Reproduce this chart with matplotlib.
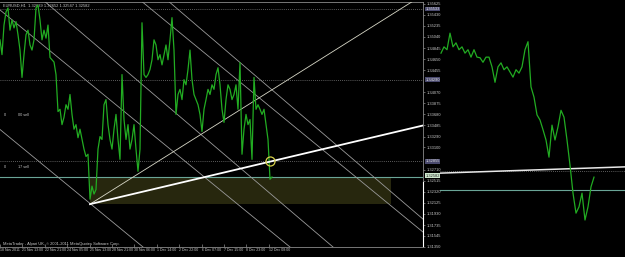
import numpy as np
import matplotlib
matplotlib.use("Agg")
import matplotlib.pyplot as plt
import matplotlib.transforms as mtransforms
from matplotlib.patches import Rectangle

plt.rcParams["font.family"] = ["Liberation Sans", "DejaVu Sans"]

# ---------------- data ----------------
symbol_text = "EURUSD,H1  1.32639 1.32652 1.32547 1.32582"
footer_text = "MetaTrader - Alpari UK, \u00a9 2001-2011 MetaQuotes Software Corp."

left_prices = [
    1.3499, 1.3473, 1.3525, 1.3548, 1.3555, 1.3516, 1.3534, 1.3520, 1.3531, 1.3508,
    1.3481, 1.3433, 1.3473, 1.3508, 1.3516, 1.3490, 1.3481, 1.3499, 1.3555, 1.3560,
    1.3534, 1.3499, 1.3516, 1.3502, 1.3525, 1.3468, 1.3464, 1.3460, 1.3438, 1.3373,
    1.3377, 1.3350, 1.3363, 1.3385, 1.3377, 1.3403, 1.3368, 1.3342, 1.3350, 1.3327,
    1.3342, 1.3324, 1.3307, 1.3294, 1.3298, 1.3219, 1.3242, 1.3228, 1.3236, 1.3307,
    1.3329, 1.3324, 1.3385, 1.3394, 1.3350, 1.3324, 1.3307, 1.3342, 1.3368, 1.3324,
    1.3289, 1.3438, 1.3359, 1.3324, 1.3350, 1.3307, 1.3324, 1.3350, 1.3307, 1.3268,
    1.3307, 1.3529, 1.3438, 1.3433, 1.3438, 1.3447, 1.3464, 1.3499, 1.3490, 1.3464,
    1.3473, 1.3455, 1.3473, 1.3490, 1.3464, 1.3499, 1.3538, 1.3481, 1.3368, 1.3403,
    1.3412, 1.3394, 1.3429, 1.3420, 1.3447, 1.3481, 1.3429, 1.3403, 1.3394, 1.3385,
    1.3368, 1.3338, 1.3377, 1.3394, 1.3412, 1.3403, 1.3420, 1.3412, 1.3438, 1.3450,
    1.3420, 1.3377, 1.3354, 1.3394, 1.3420, 1.3412, 1.3394, 1.3403, 1.3420, 1.3377,
    1.3459, 1.3298, 1.3342, 1.3368, 1.3350, 1.3359, 1.3289, 1.3433, 1.3377, 1.3385,
    1.3377, 1.3368, 1.3377, 1.3350, 1.3324, 1.3254, 1.3258,
]

right_prices = [
    1.3498, 1.3509, 1.3504, 1.3533, 1.3509, 1.3516, 1.3504, 1.3509, 1.3498, 1.3504,
    1.3491, 1.3504, 1.3491, 1.3490, 1.3482, 1.3491, 1.3491, 1.3474, 1.3447, 1.3474,
    1.3481, 1.3469, 1.3474, 1.3465, 1.3456, 1.3469, 1.3463, 1.3474, 1.3504, 1.3518,
    1.3439, 1.3421, 1.3390, 1.3381, 1.3364, 1.3346, 1.3316, 1.3372, 1.3346, 1.3369,
    1.3398, 1.3386, 1.3346, 1.3302, 1.3253, 1.3218, 1.3229, 1.3253, 1.3206, 1.3229,
    1.3264, 1.3281,
]

time_labels = ["18 Nov 2011", "21 Nov 13:00", "22 Nov 21:00", "24 Nov 05:00",
               "25 Nov 13:00", "28 Nov 21:00", "30 Nov 06:00", "1 Dec 14:00",
               "2 Dec 22:00", "6 Dec 07:00", "7 Dec 15:00", "8 Dec 23:00",
               "12 Dec 08:00"]

price_ticks = [1.35625, 1.35430, 1.35235, 1.35040, 1.34845, 1.34650, 1.34455,
               1.34070, 1.33875, 1.33680, 1.33485, 1.33290, 1.33100,
               1.32710, 1.32515, 1.32320, 1.32125, 1.31930, 1.31735,
               1.31545, 1.31350]

dotted_levels = [1.35533, 1.34290, 1.32855]
bid_level = 1.32582
zone_top, zone_bottom = 1.32575, 1.32103
swing_low = 1.32103
trend_end = 1.33485
touch_price = 1.32855

# right panel levels
right_trend = [1.3288, 1.3299]
right_dotted = 1.3292

# ---------------- layout constants ----------------
W, H = 625, 257
P0, PPX = 1.3569, 0.000175          # price at image row 0, price per pixel
LSTEP, RSTEP, TSTEP = 2.0, 3.0, 22.4

BG = "black"
GREEN = "#22ac22"
GRID = "#9a9a9a"
TXT = "#c8c8c8"
TEAL = "#6aa597"
FS = 2.9

def prow(y):
    return P0 - PPX * y

fig = plt.figure(figsize=(W / 100, H / 100), dpi=100, facecolor=BG)

# ---------------- left chart ----------------
ax = fig.add_axes([0, 10 / H, 423 / W, 245 / H], facecolor=BG)
ax.set_xlim(0, 423)
ax.set_ylim(prow(247), prow(2))

ax.add_patch(Rectangle((90, zone_bottom), 301, zone_top - zone_bottom,
                       facecolor="#27270e", edgecolor="none", zorder=1))

for lv in dotted_levels:
    ax.axhline(lv, color="#7a7a7a", lw=0.6, ls=(0, (1, 1.5)), zorder=2)
ax.axhline(bid_level, color=TEAL, lw=0.8, zorder=2)

diag = [((0, prow(130)), (143, prow(248))),
        ((0, prow(10)), (290, prow(248))),
        ((43, prow(0)), (333, prow(248))),
        ((140, prow(0)), (423, prow(233))),
        ((167, prow(0)), (423, prow(220)))]
for (x0, y0), (x1, y1) in diag:
    ax.plot([x0, x1], [y0, y1], color=GRID, lw=0.6, zorder=3)

ax.plot([90, 418], [swing_low, prow(-2)], color="#d8d8c8", lw=0.6, zorder=3)

xs = np.arange(len(left_prices)) * LSTEP
ax.plot(xs, left_prices, color=GREEN, lw=0.9, zorder=4)

ax.plot([90, 423], [swing_low, trend_end], color="white", lw=1.3, zorder=5)

ax.plot([270], [touch_price], marker="o", ms=6.5, mfc="none", mec="#d6d04a",
        mew=0.9, zorder=6)

ax.spines["left"].set_visible(False)
for s in ["right", "bottom", "top"]:
    ax.spines[s].set_color("#8a8a8a")
    ax.spines[s].set_linewidth(0.6)
ax.yaxis.tick_right()
ax.set_yticks(price_ticks)
ax.set_yticklabels([f"{v:.5f}" for v in price_ticks])
ax.tick_params(axis="y", colors="#8a8a8a", labelcolor=TXT, labelsize=FS,
               length=1.5, width=0.5, pad=1.5)
tpos = np.arange(len(time_labels)) * TSTEP
ax.set_xticks(tpos)
ax.set_xticklabels(time_labels)
ax.tick_params(axis="x", colors="#8a8a8a", labelcolor=TXT, labelsize=2.5,
               length=2, width=0.5, pad=1, direction="in")
for lab in ax.get_xticklabels():
    lab.set_horizontalalignment("left")

trans = mtransforms.blended_transform_factory(ax.transAxes, ax.transData)
for lv in dotted_levels:
    ax.text(1.006, lv, f"{lv:.5f}", transform=trans, fontsize=FS, color="#e0e0e0",
            va="center", ha="left", zorder=7,
            bbox=dict(boxstyle="square,pad=0.1", fc="#4a4a6e", ec="none"))
ax.text(1.006, bid_level + PPX * 1.0, f"{bid_level:.5f}", transform=trans,
        fontsize=FS, color="#202020", va="center", ha="left", zorder=7,
        bbox=dict(boxstyle="square,pad=0.1", fc="#cfe8cf", ec="none"))
ax.plot([423, 423], [prow(183), prow(247)], color="white", lw=0.8,
        clip_on=False, zorder=8)

ax.text(0.006, 0.993, symbol_text, transform=ax.transAxes, fontsize=FS,
        color=TXT, va="top", ha="left")
ax.text(0.006, 0.004, footer_text, transform=ax.transAxes, fontsize=FS,
        color=TXT, va="bottom", ha="left")
ax.text(4, prow(115), "0", fontsize=2.7, color=TXT, va="center", ha="left")
ax.text(18, prow(115), "00 sell", fontsize=2.7, color=TXT, va="center", ha="left")
ax.text(4, prow(168), "0", fontsize=2.7, color=TXT, va="center", ha="left")
ax.text(18, prow(168), "17 sell", fontsize=2.7, color=TXT, va="center", ha="left")

# ---------------- right chart ----------------
RP0 = 1.3591
ax2 = fig.add_axes([440 / W, 0, 185 / W, 1], facecolor=BG)
ax2.set_xlim(0, 185)
ax2.set_ylim(RP0 - PPX * H, RP0)
ax2.axis("off")
ax2.axhline(right_dotted, color="#7a7a7a", lw=0.6, ls=(0, (1, 1.5)))
ax2.axhline(bid_level, color=TEAL, lw=0.8)
ax2.plot([0, 185], right_trend, color="#e8e8e8", lw=1.1)
rx = np.arange(len(right_prices)) * RSTEP + 1
ax2.plot(rx, right_prices, color=GREEN, lw=0.9)

fig.savefig("out.png", dpi=100, facecolor=BG)
